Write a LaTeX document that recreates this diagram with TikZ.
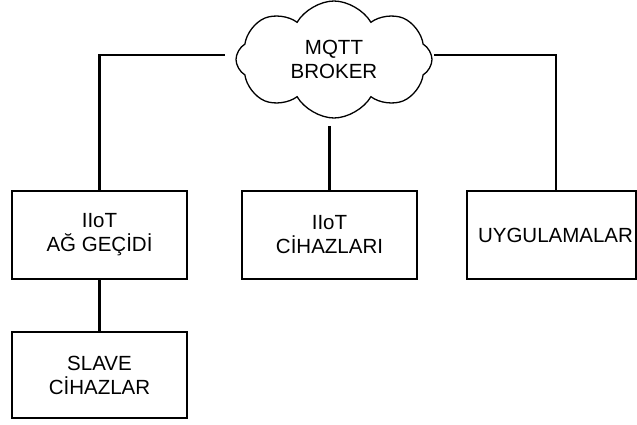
\documentclass[tikz,border=0pt]{standalone}
\usepackage{fontspec}
\setmainfont{Liberation Sans}
\usetikzlibrary{shapes.symbols}
\begin{document}
\begin{tikzpicture}[x=1pt,y=-1pt,
  box/.style={draw=black,line width=2.2pt,align=center,inner sep=0pt,
    font=\fontsize{20.5}{24}\selectfont},
  conn/.style={draw=black,line width=2.2pt},
  cloudnode/.style={cloud,draw=black,line width=1.3pt,cloud puffs=8,cloud puff arc=120,
    aspect=1.65,align=center,inner sep=0pt,font=\fontsize{20.5}{24}\selectfont}]
\useasboundingbox (0,0) rectangle (637,425);
\node[cloudnode,minimum width=196pt,minimum height=117pt] (broker) at (334,59.5) {MQTT\\BROKER};
\node[box,minimum width=175pt,minimum height=88pt] (gw) at (99.5,235) {IIoT\\AĞ GEÇİDİ};
\node[box,minimum width=175pt,minimum height=86pt] (slave) at (99.5,375) {SLAVE\\CİHAZLAR};
\node[box,minimum width=175pt,minimum height=88pt] (dev) at (329.5,235) {IIoT\\CİHAZLARI};
\draw[line width=2.2pt] (467,191) -- (636,191) -- (636,279) -- (467,279) -- cycle;
\node[inner sep=0pt,font=\fontsize{20.5}{24}\selectfont] (app) at (555.5,235) {UYGULAMALAR};
\coordinate (appTop) at (556,191);
\coordinate (lEnd) at (225,55);
\coordinate (rEnd) at (434,55);
\coordinate (mEnd) at (329.5,126);
\draw[conn] (gw.north) |- (lEnd);
\draw[conn] (rEnd) -| (appTop);
\draw[conn] (mEnd) -- (dev.north);
\draw[conn] (gw.south) -- (slave.north);
\end{tikzpicture}
\end{document}
